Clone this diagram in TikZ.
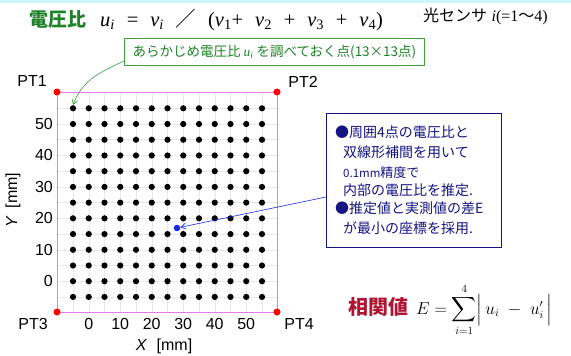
\documentclass[tikz,border=0pt]{standalone}
\usepackage{exscale}
\usepackage{fontspec}
\setmainfont{Liberation Sans}
\newfontfamily\jp{Noto Sans CJK JP}
\newfontfamily\ser{Liberation Serif}
\usetikzlibrary{arrows.meta}
\definecolor{tgreen}{RGB}{30,130,40}
\definecolor{bgreen}{RGB}{60,160,60}
\definecolor{navy}{RGB}{20,20,130}
\definecolor{pinkl}{RGB}{235,120,235}
\definecolor{dred}{RGB}{175,20,50}
\definecolor{ptblue}{RGB}{20,40,230}
\definecolor{cyanband}{RGB}{205,245,250}
\newcommand\gp{\hspace{0.58em}}
\tikzset{
  dot/.style={circle,fill=black,inner sep=0pt,minimum size=6.2pt},
  corner/.style={circle,fill=red,inner sep=0pt,minimum size=7pt},
  lab/.style={font=\fontsize{16}{16}\selectfont,inner sep=0pt},
  bline/.style={anchor=base west,inner sep=0pt,text=navy,font=\jp\fontsize{14}{14}\selectfont},
}
\begin{document}
\begin{tikzpicture}[x=1pt,y=-1pt]
\useasboundingbox (0,0) rectangle (571,356);
\fill[cyanband] (0,0) rectangle (571,3);
% title
\node[anchor=west,inner sep=0pt,text=tgreen,font=\jp\bfseries\fontsize{19}{19}\selectfont] (title) at (29,19) {電圧比};
\node[anchor=west,inner sep=0pt,font=\ser\fontsize{20.5}{20.5}\selectfont] (formula) at (100,20)
 {\textit{u}\textsubscript{\textit{i}}\gp=\gp\textit{v}\textsubscript{\textit{i}}\gp{\jp ／}\gp(\textit{v}\textsubscript{1}+\gp\textit{v}\textsubscript{2}\gp+\gp\textit{v}\textsubscript{3}\gp+\gp\textit{v}\textsubscript{4})};
\node[anchor=west,inner sep=0pt,font=\fontsize{16}{16}\selectfont] (sensor) at (423,16)
 {{\jp\fontsize{16}{16}\selectfont 光センサ} {\ser\textit{i}(=1{\jp 〜}4)}};
% green callout
\node[draw=bgreen,line width=1pt,anchor=north west,minimum width=300pt,minimum height=27pt,inner sep=0pt,
  text=tgreen,font=\jp\fontsize{13.5}{13.5}\selectfont] (callout) at (124,38)
 {あらかじめ電圧比 {\ser\itshape u\textsubscript{i}} を調べておく点(13×13点)};
% grid region
\foreach \i in {0,...,12}{
  \draw[gray!18,line width=0.5pt] ({73+\i*15.75},92) -- ({73+\i*15.75},312);
  \draw[gray!18,line width=0.5pt] (57,{108.3+\i*15.72}) -- (277,{108.3+\i*15.72});
}
\draw[pinkl,line width=0.9pt] (57,92) rectangle (277,312);
\foreach \i in {0,...,12}{
  \foreach \j in {0,...,12}{
    \node[dot] (d-\i-\j) at ({73+\i*15.75},{108.3+\j*15.72}) {};
  }
}
\node[corner] (c1) at (57,92) {};
\node[corner] (c2) at (277,92) {};
\node[corner] (c3) at (57,312) {};
\node[corner] (c4) at (277,312) {};
\node[lab] (PT1) at (32,81) {PT1};
\node[lab] (PT2) at (303,82) {PT2};
\node[lab] (PT3) at (33,324) {PT3};
\node[lab] (PT4) at (299,324) {PT4};
% y tick labels
\foreach \v [count=\k] in {50,40,30,20,10,0}{
  \node[lab,anchor=east] (yl\k) at ({53},{124+(\k-1)*31.44}) {\v};
}
\foreach \v [count=\k] in {0,10,20,30,40,50}{
  \node[lab] (xl\k) at ({88.75+(\k-1)*31.5},{324}) {\v};
}
\node[lab,rotate=90] (ylab) at (13,200) {\textit{Y}\, [mm]};
\node[lab] (xlab) at (164,346) {\textit{X}\,\, [mm]};
% green arrow
\coordinate (gstart) at (124,61);
\draw[bgreen,line width=0.6pt,-{Straight Barb[length=5pt,width=6pt]}] (gstart) to[out=205,in=70] (d-0-0.north);
% blue box
\node[draw=navy,line width=1pt,anchor=north west,minimum width=175pt,minimum height=134pt,inner sep=0pt] (bbox) at (326,113) {};
\node[bline] (b1) at (335,137.5) {●周囲4点の電圧比と};
\node[bline] (b2) at (343,157.5) {双線形補間を用いて};
\node[bline,font=\jp\fontsize{11.5}{11.5}\selectfont] (b3) at (343,177) {0.1mm{\fontsize{13}{13}\selectfont 精度で}};
\node[bline] (b4) at (343,195) {内部の電圧比を推定.};
\node[bline] (b5) at (335,213) {●推定値と実測値の差\textit{E}};
\node[bline] (b6) at (343,233) {が最小の座標を採用.};
\node[circle,fill=ptblue,inner sep=0pt,minimum size=6.5pt] (bdot) at (177,228) {};
\coordinate (bstart) at (326,197);
\draw[ptblue,line width=0.6pt,-{Straight Barb[length=5pt,width=6pt]}] (bstart) -- (bdot);
% correlation
\node[anchor=west,inner sep=0pt,text=dred,font=\jp\bfseries\fontsize{20}{20}\selectfont] (corr) at (348,307) {相関値};
\node[anchor=west,inner sep=0pt,font=\fontsize{16}{16}\selectfont] (eform) at (416,310)
 {$\displaystyle E = \sum\limits_{i=1}^{4}\Bigl|\, u_i \;-\; u'_i\, \Bigr|$};
\end{tikzpicture}
\end{document}
